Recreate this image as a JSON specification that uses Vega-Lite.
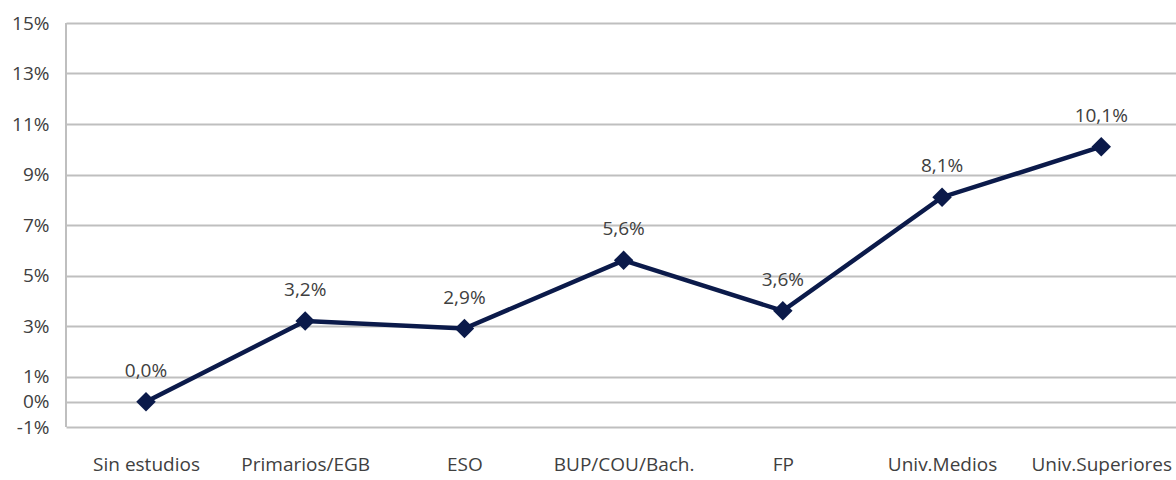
{
  "$schema": "https://vega.github.io/schema/vega-lite/v6.json",
  "width": 1110,
  "height": 404,
  "autosize": {"type": "none"},
  "padding": {"left": 66, "top": 23, "right": 0, "bottom": 53},
  "config": {
    "locale": {"number": {"decimal": ",", "thousands": ".", "grouping": [3], "currency": ["", " €"], "minus": "-"}},
    "view": {"stroke": null},
    "font": "Open Sans",
    "axis": {"labelFont": "Open Sans", "labelColor": "#404040", "labelFontSize": 19}
  },
  "data": {
    "values": [
      {"nivel": "Sin estudios", "valor": 0.0},
      {"nivel": "Primarios/EGB", "valor": 0.032},
      {"nivel": "ESO", "valor": 0.029},
      {"nivel": "BUP/COU/Bach.", "valor": 0.056},
      {"nivel": "FP", "valor": 0.036},
      {"nivel": "Univ.Medios", "valor": 0.081},
      {"nivel": "Univ.Superiores", "valor": 0.101}
    ]
  },
  "encoding": {
    "x": {
      "field": "nivel", "type": "nominal", "sort": null,
      "scale": {"type": "point", "padding": 0.486, "align": 0.517},
      "axis": {"title": null, "labelAngle": 0, "ticks": false, "domain": false, "grid": false, "labelPadding": 28}
    },
    "y": {
      "field": "valor", "type": "quantitative",
      "scale": {"domain": [-0.01, 0.15], "nice": false, "zero": false},
      "axis": {
        "title": null,
        "values": [-0.01, 0, 0.01, 0.03, 0.05, 0.07, 0.09, 0.11, 0.13, 0.15],
        "format": ".0%",
        "labelExpr": "replace(datum.label, '−', '-')",
        "ticks": false,
        "domain": false,
        "grid": true, "gridColor": "#bfbfbf", "gridWidth": 2,
        "labelPadding": 17
      }
    }
  },
  "layer": [
    {
      "mark": {"type": "rule", "color": "#bfbfbf", "strokeWidth": 2},
      "encoding": {"x": {"value": 0}, "y": {"value": 0}, "y2": {"value": 404}}
    },
    {
      "mark": {"type": "line", "color": "#0b1a4a", "strokeWidth": 4.5}
    },
    {
      "mark": {"type": "point", "shape": "diamond", "filled": true, "color": "#0b1a4a", "size": 380, "opacity": 1}
    },
    {
      "mark": {"type": "text", "dy": -31, "fontSize": 19, "color": "#404040", "font": "Open Sans"},
      "encoding": {"text": {"field": "valor", "type": "quantitative", "format": ".1%"}}
    }
  ]
}
